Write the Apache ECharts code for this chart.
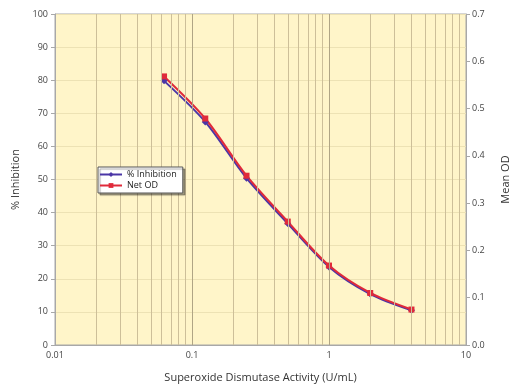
<!DOCTYPE html>
<html><head><meta charset="utf-8">
<script src="https://cdn.jsdelivr.net/npm/echarts@6/dist/echarts.min.js"></script>
<style>html,body{margin:0;padding:0;background:#fff}#c{width:519px;height:391px}</style>
</head><body><div id="c"></div>
<script>
const activity = [0.0625, 0.125, 0.25, 0.5, 1, 2, 4];
const inhibition = [79.8, 67.4, 50.4, 36.7, 23.6, 15.4, 10.5];
const netOD = [0.568, 0.479, 0.358, 0.261, 0.168, 0.110, 0.075];
const xMinorGrid = [0.02,0.03,0.04,0.05,0.06,0.07,0.08,0.09,0.2,0.3,0.4,0.5,0.6,0.7,0.8,0.9,2,3,4,5,6,7,8,9];
const xMajorGrid = [0.1, 1];

const font = "'Open Sans', sans-serif";
const chart = echarts.init(document.getElementById('c'));
chart.setOption({
  animation: false,
  textStyle: {fontFamily: font},
  grid: {left: 55, right: 53, top: 14, bottom: 46, show: true, backgroundColor: '#fff5c9', borderColor: '#a8a8a8', borderWidth: 1},
  legend: {
    z: 20, zlevel: 1,
    orient: 'vertical', left: 98, top: 167, padding: [3, 6, 3, 1], itemGap: 2,
    itemWidth: 22, itemHeight: 6,
    backgroundColor: '#fff', borderColor: '#555', borderWidth: 1,
    shadowColor: 'rgba(0,0,0,0.35)', shadowOffsetX: 2, shadowOffsetY: 2, shadowBlur: 1,
    textStyle: {fontSize: 9, color: '#222', fontFamily: font},
    data: ['% Inhibition', 'Net OD']
  },
  xAxis: {
    type: 'log', logBase: 10, min: 0.01, max: 10,
    name: 'Superoxide Dismutase Activity (U/mL)', nameLocation: 'middle', nameGap: 27,
    nameTextStyle: {fontSize: 11, color: '#333'},
    axisLine: {show: true, lineStyle: {color: '#a8a8a8'}},
    axisTick: {show: false},
    axisLabel: {fontSize: 9, color: '#444', margin: 6, formatter: v => String(v)},
    splitLine: {show: false}
  },
  yAxis: [{
    type: 'value', min: 0, max: 100, interval: 10,
    name: '% Inhibition', nameLocation: 'middle', nameGap: 34, nameRotate: 90,
    nameTextStyle: {fontSize: 11, color: '#333'},
    axisLine: {show: true, lineStyle: {color: '#a8a8a8'}},
    axisTick: {show: true, length: 4, lineStyle: {color: '#a8a8a8'}},
    axisLabel: {fontSize: 9, color: '#444', margin: 7},
    splitLine: {show: true, lineStyle: {color: '#ede2b4'}}
  }, {
    type: 'value', min: 0, max: 0.7, interval: 0.1, position: 'right',
    name: 'Mean OD', nameLocation: 'middle', nameGap: 34, nameRotate: 90,
    nameTextStyle: {fontSize: 11, color: '#333'},
    axisLine: {show: true, lineStyle: {color: '#a8a8a8'}},
    axisTick: {show: true, length: 4, lineStyle: {color: '#a8a8a8'}},
    axisLabel: {fontSize: 9, color: '#444', margin: 6, formatter: v => v.toFixed(1)},
    splitLine: {show: false}
  }],
  series: [{
    name: 'grid-minor', type: 'line', data: [], silent: true, legendHoverLink: false,
    markLine: {silent: true, symbol: 'none', label: {show: false},
      lineStyle: {color: '#cdbf99', type: 'solid', width: 1},
      data: xMinorGrid.map(v => ({xAxis: v}))}
  }, {
    name: 'grid-major', type: 'line', data: [], silent: true,
    markLine: {silent: true, symbol: 'none', label: {show: false},
      lineStyle: {color: '#b0a585', type: 'solid', width: 1},
      data: xMajorGrid.map(v => ({xAxis: v}))}
  }, {
    name: '% Inhibition', type: 'line', yAxisIndex: 0, smooth: 0.3,
    data: activity.map((x, i) => [x, inhibition[i]]),
    symbol: 'diamond', symbolSize: 7,
    lineStyle: {color: '#4b36a6', width: 2}, itemStyle: {color: '#4b36a6'}
  }, {
    name: 'Net OD', type: 'line', yAxisIndex: 1, smooth: 0.3,
    data: activity.map((x, i) => [x, netOD[i]]),
    symbol: 'rect', symbolSize: 6,
    lineStyle: {color: '#e02a3a', width: 2}, itemStyle: {color: '#e02a3a'}
  }]
});
</script></body></html>
